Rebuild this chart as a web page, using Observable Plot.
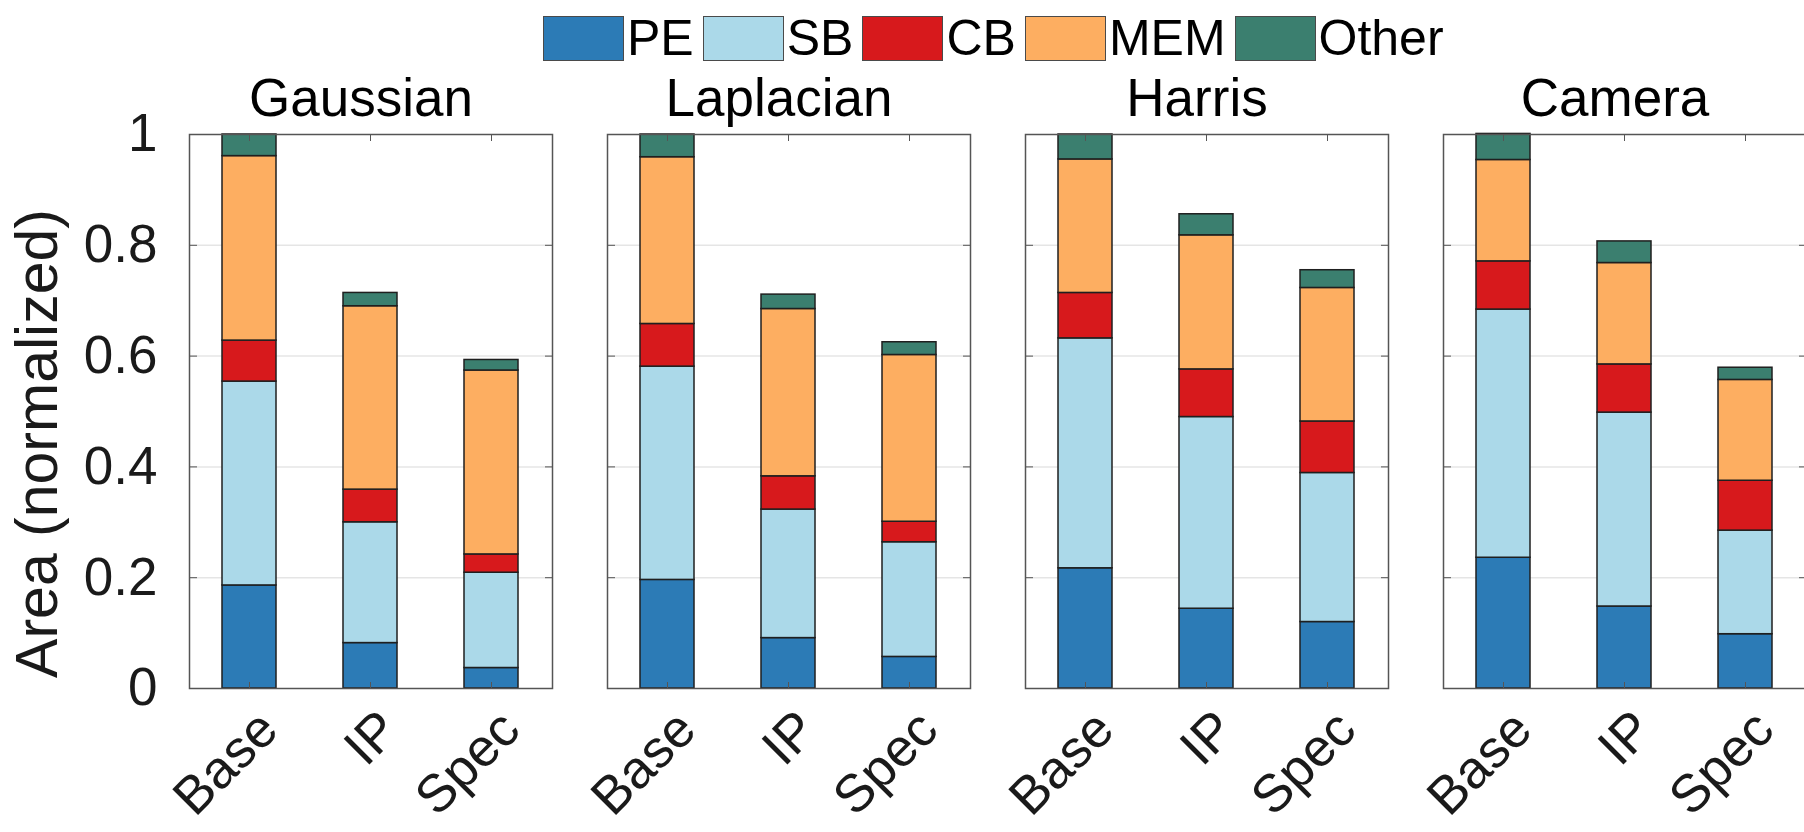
<!DOCTYPE html>
<html>
<head>
<meta charset="utf-8">
<script src="https://cdn.jsdelivr.net/npm/d3@7"></script>
<script src="https://cdn.jsdelivr.net/npm/@observablehq/plot@0.6"></script>
<style>
html, body { margin: 0; padding: 0; background: #fff; overflow: hidden; width: 1804px; height: 832px; }
body { font-family: "Liberation Sans", Arial, Helvetica, sans-serif; }
#legend { position: relative; height: 66px; }
#legend .items { position: absolute; left: 543px; top: 13px; display: flex; align-items: center; }
.sw { box-sizing: border-box; width: 81px; height: 45px; border: 1.5px solid #4a4a4a; }
.lab { font-size: 50px; line-height: 1; margin: 0 9px 0 3px; color: #000; }
#chart svg { max-width: none !important; }
</style>
</head>
<body>
<div id="legend"><div class="items"></div></div>
<div id="chart"></div>
<script>
// ---- data ----
const kernels = ["Gaussian", "Laplacian", "Harris", "Camera"];
const configs = ["Base", "IP", "Spec"];
const parts = ["PE", "SB", "CB", "MEM", "Other"];
const partColors = ["#2c7bb6", "#abd9e9", "#d7191c", "#fdae61", "#3b7f6f"];
// values ordered: kernel x config (Gaussian Base, IP, Spec, Laplacian Base, ...)
const PE    = [0.186, 0.082, 0.037, 0.196, 0.091, 0.057, 0.217, 0.144, 0.120, 0.236, 0.148, 0.098];
const SB    = [0.368, 0.218, 0.172, 0.385, 0.232, 0.207, 0.415, 0.346, 0.269, 0.448, 0.350, 0.187];
const CB    = [0.074, 0.059, 0.033, 0.077, 0.060, 0.037, 0.082, 0.086, 0.093, 0.087, 0.087, 0.090];
const MEM   = [0.333, 0.331, 0.332, 0.301, 0.302, 0.301, 0.241, 0.242, 0.241, 0.183, 0.183, 0.182];
const Other = [0.039, 0.024, 0.019, 0.041, 0.026, 0.023, 0.045, 0.038, 0.032, 0.047, 0.039, 0.022];
const yTicks = [0, 0.2, 0.4, 0.6, 0.8, 1];
const yTickLabels = ["0", "0.2", "0.4", "0.6", "0.8", "1"];
const gridTicks = [0.2, 0.4, 0.6, 0.8];
const yLabel = "Area (normalized)";

// ---- table ----
const partValues = [PE, SB, CB, MEM, Other];
const rows = [];
kernels.forEach((k, ki) => configs.forEach((c, ci) => parts.forEach((p, pi) => {
  rows.push({kernel: k, config: c, part: p, value: partValues[pi][ki * configs.length + ci]});
})));

// ---- legend ----
const items = document.querySelector("#legend .items");
parts.forEach((p, i) => {
  const sw = document.createElement("div");
  sw.className = "sw";
  sw.style.background = partColors[i];
  const lab = document.createElement("span");
  lab.className = "lab";
  lab.textContent = p;
  items.appendChild(sw);
  items.appendChild(lab);
});

// ---- chart ----
const font = "'Liberation Sans', Arial, Helvetica, sans-serif";
const chart = Plot.plot({
  width: 1808,
  height: 766,
  marginLeft: 187,
  marginRight: 0,
  marginTop: 68,
  marginBottom: 144,
  style: {fontFamily: font, fontSize: "52px", color: "#000", background: "transparent", overflow: "visible", maxWidth: "none"},
  fx: {domain: kernels, paddingInner: 0.1305, paddingOuter: 0, label: null},
  x: {domain: configs, paddingInner: 0.55, paddingOuter: 0.275, label: null},
  y: {domain: [0, 1], label: null},
  color: {domain: parts, range: partColors},
  marks: [
    Plot.gridY(gridTicks, {stroke: "#000", strokeOpacity: 0.1, strokeWidth: 1.5}),
    Plot.barY(rows, {fx: "kernel", x: "config", y: "value", fill: "part", stroke: "#1f1f1f", strokeWidth: 1.5}),
    Plot.frame({stroke: "#555", strokeWidth: 1.5}),
    Plot.axisY(yTicks, {anchor: "left", tickSize: -8, tickFormat: () => "", facetAnchor: null, stroke: "#555", label: null}),
    Plot.axisY(yTicks, {anchor: "right", tickSize: -8, tickFormat: () => "", facetAnchor: null, stroke: "#555", label: null}),
    Plot.axisY(yTicks, {anchor: "left", tickSize: 0, tickPadding: 32, tickFormat: d => yTickLabels[yTicks.indexOf(d)], fontSize: 53, fill: "#1a1a1a", label: null}),
    Plot.axisX({anchor: "bottom", tickSize: -6, tickFormat: () => "", facetAnchor: null, stroke: "#555", label: null}),
    Plot.axisX({anchor: "top", tickSize: -6, tickFormat: () => "", facetAnchor: null, stroke: "#555", label: null}),
    Plot.axisX({anchor: "bottom", tickSize: 0, tickPadding: 32, tickRotate: -45, textAnchor: "end", lineAnchor: "middle", dx: 19, fontSize: 53, fill: "#1a1a1a", facetAnchor: null, label: null}),
    Plot.axisFx({anchor: "top", tickSize: 0, tickPadding: 19, fontSize: 53, fill: "#000", label: null, dx: -10}),
    Plot.text([yLabel], {fx: () => kernels[0], frameAnchor: "left", textAnchor: "middle", rotate: -90, dx: -133, dy: 32, lineAnchor: "bottom", fontSize: 59, fill: "#1a1a1a"})
  ]
});
document.getElementById("chart").appendChild(chart);
</script>
</body>
</html>
